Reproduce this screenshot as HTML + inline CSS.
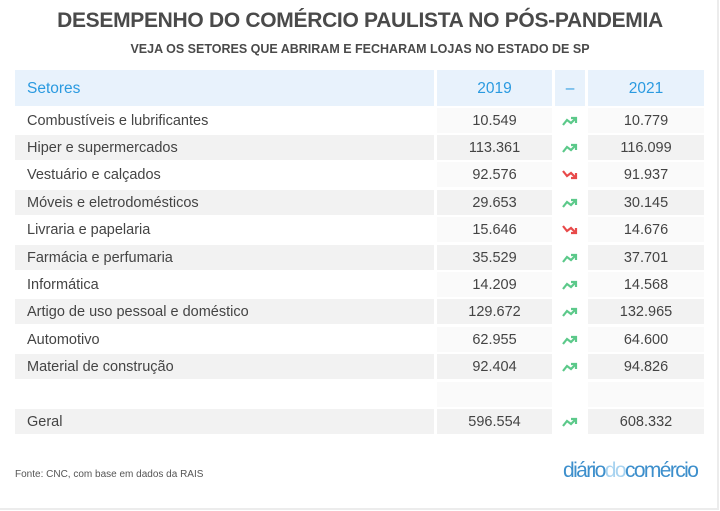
<!DOCTYPE html>
<html><head><meta charset="utf-8"><style>
body{margin:0;width:720px;height:511px;background:#fff;font-family:"Liberation Sans",sans-serif;position:relative;overflow:hidden}
.frame{position:absolute;left:0;top:0;width:717px;height:508px;border-right:2px solid #ececec;border-bottom:2px solid #ececec}
h1{position:absolute;top:9px;left:0;width:720px;text-align:center;margin:0;font-size:21px;font-weight:bold;color:#4a4a4a;letter-spacing:-0.3px}
h2{position:absolute;top:42px;left:0;width:720px;text-align:center;margin:0;font-size:12.5px;font-weight:bold;color:#4a4a4a}
.c{position:absolute;height:25px;line-height:27px;font-size:14.5px;color:#444}
.hd{background:#e8f2fc;color:#2a9ae0;font-size:15.5px;height:36px;line-height:38px;top:70px}
.s{left:15px;width:407px;padding-left:12px}
.a{left:437px;width:115px;text-align:center}
.m{left:555px;width:30px;text-align:center}
.b{left:588px;width:116px;text-align:center}
.src{position:absolute;left:15px;top:469px;font-size:10px;color:#555}
.logo{position:absolute;left:563px;top:459px;font-size:21px;letter-spacing:-1.6px;color:#3d8fcc}
</style></head><body>
<div class="frame"></div>
<h1>DESEMPENHO DO COMÉRCIO PAULISTA NO PÓS-PANDEMIA</h1>
<h2>VEJA OS SETORES QUE ABRIRAM E FECHARAM LOJAS NO ESTADO DE SP</h2>
<div class="c hd s">Setores</div><div class="c hd a">2019</div><div class="c hd m">–</div><div class="c hd b">2021</div>
<div id="rows"></div>
<div class="src">Fonte: CNC, com base em dados da RAIS</div>
<div class="logo">diário<span style="color:#a8d3f0">do</span>comércio</div>
<script>
var d=[["Combustíveis e lubrificantes","10.549","10.779",1],["Hiper e supermercados","113.361","116.099",1],["Vestuário e calçados","92.576","91.937",0],["Móveis e eletrodomésticos","29.653","30.145",1],["Livraria e papelaria","15.646","14.676",0],["Farmácia e perfumaria","35.529","37.701",1],["Informática","14.209","14.568",1],["Artigo de uso pessoal e doméstico","129.672","132.965",1],["Automotivo","62.955","64.600",1],["Material de construção","92.404","94.826",1],["","","",-1],["Geral","596.554","608.332",1]];
var h="";
d.forEach(function(r,i){var t=(107.5+i*27.4).toFixed(1);var ev=i%2==1;var bg=ev?"#f2f2f2":"#fafafa";
var up='<svg width="18" height="12" style="vertical-align:middle"><polyline points="2,10 6,5 10,8 15,3" fill="none" stroke="#5cc98a" stroke-width="2.2"/><polyline points="10,3 15,3 15,8" fill="none" stroke="#5cc98a" stroke-width="2.2"/></svg>';
var dn='<svg width="18" height="12" style="vertical-align:middle"><polyline points="2,2 6,7 10,4 15,9" fill="none" stroke="#e84a4a" stroke-width="2.2"/><polyline points="10,9 15,9 15,4" fill="none" stroke="#e84a4a" stroke-width="2.2"/></svg>';
h+='<div class="c s" style="top:'+t+'px;background:'+(ev?bg:"#fff")+'">'+r[0]+'</div>';
h+='<div class="c a" style="top:'+t+'px;background:'+bg+'">'+r[1]+'</div>';
h+='<div class="c m" style="top:'+t+'px">'+(r[3]==1?up:r[3]==0?dn:"")+'</div>';
h+='<div class="c b" style="top:'+t+'px;background:'+bg+'">'+r[2]+'</div>';});
document.getElementById("rows").innerHTML=h;
</script>
</body></html>
